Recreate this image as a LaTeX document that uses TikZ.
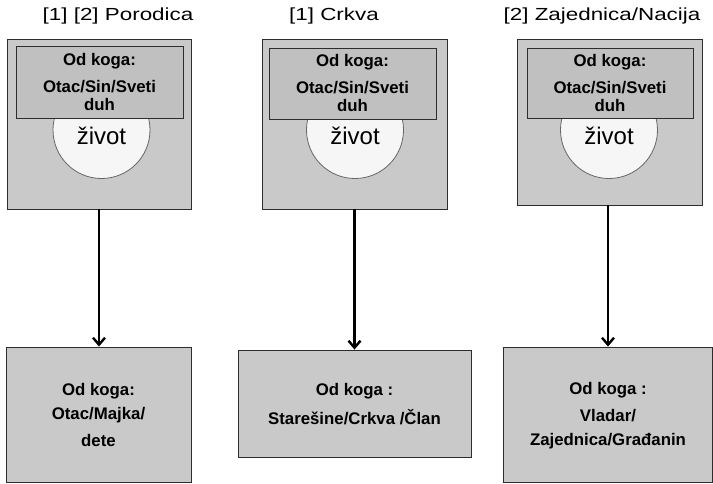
\documentclass[tikz,border=0pt]{standalone}
\usepackage{fontspec}
\setmainfont{Liberation Sans}
\usetikzlibrary{arrows.meta}
\definecolor{boxgray}{RGB}{201,201,201}
\definecolor{innergray}{RGB}{192,192,192}
\definecolor{circfill}{RGB}{246,246,246}
\definecolor{edge}{RGB}{45,45,45}
\newcommand{\wideTitle}[1]{\scalebox{1.28}[1]{#1}}
\begin{document}
\begin{tikzpicture}[x=1pt,y=-1pt,
  outerbox/.style={draw=edge,line width=0.9pt,fill=boxgray,rectangle,inner sep=0pt},
  innerbox/.style={draw=edge,line width=0.9pt,fill=innergray,rectangle,inner sep=0pt},
  lifecirc/.style={draw=black!60,line width=0.8pt,fill=circfill,circle,inner sep=0pt,minimum size=97pt},
  titletext/.style={font=\fontsize{17.5}{21}\selectfont,inner sep=0pt},
  lifetext/.style={font=\fontsize{24}{28}\selectfont,inner sep=0pt},
  boldtext/.style={font=\fontsize{16.8}{18}\selectfont\bfseries,inner sep=0pt,align=center},
  flow/.style={line width=2.4pt,-{Straight Barb[length=7pt,width=12pt,line width=2.4pt]}}
]
\useasboundingbox (0,0) rectangle (713,483);
\fill[white] (0,0) rectangle (713,483);

% titles
\node[titletext] (ti1) at (118,15.5) {\wideTitle{[1] [2] Porodica}};
\node[titletext] (ti2) at (334,15.5) {\wideTitle{[1] Crkva}};
\node[titletext] (ti3) at (602,15.5) {\wideTitle{[2] Zajednica/Nacija}};

% top boxes
\node[outerbox,minimum width=184pt,minimum height=170pt] (t1) at (99,124) {};
\node[outerbox,minimum width=185pt,minimum height=170pt] (t2) at (354.5,124) {};
\node[outerbox,minimum width=185pt,minimum height=166pt] (t3) at (609.5,122) {};

% circles
\node[lifecirc] (c1) at (101.5,130) {};
\node[lifecirc] (c2) at (355,130) {};
\node[lifecirc] (c3) at (609,130) {};

% inner boxes
\node[innerbox,minimum width=167pt,minimum height=72pt] (i1) at (99.5,82) {};
\node[innerbox,minimum width=167pt,minimum height=71pt] (i2) at (352.5,83.5) {};
\node[innerbox,minimum width=166pt,minimum height=70pt] (i3) at (610,83) {};

% inner texts
\node[boldtext] (h1) at (99.5,61) {Od koga:};
\node[boldtext] (s1) at (99.5,95) {Otac/Sin/Sveti\\duh};
\node[boldtext] (h2) at (352.5,62) {Od koga:};
\node[boldtext] (s2) at (352.5,96) {Otac/Sin/Sveti\\duh};
\node[boldtext] (h3) at (610,62) {Od koga:};
\node[boldtext] (s3) at (610,96) {Otac/Sin/Sveti\\duh};

% život
\node[lifetext] (l1) at (101.5,136) {život};
\node[lifetext] (l2) at (355,136) {život};
\node[lifetext] (l3) at (609,136) {život};

% bottom boxes
\node[outerbox,minimum width=185pt,minimum height=135pt] (b1) at (98.5,414.5) {};
\node[outerbox,minimum width=233pt,minimum height=107pt] (b2) at (354.5,403.5) {};
\node[outerbox,minimum width=209pt,minimum height=135pt] (b3) at (608,414.5) {};

% bottom texts
\node[boldtext] (bh1) at (98.5,391) {Od koga:};
\node[boldtext] (bs1) at (98.5,415.5) {Otac/Majka/};
\node[boldtext] (bd1) at (98.5,440) {dete};
\node[boldtext] (bh2) at (354.5,391) {Od koga :};
\node[boldtext] (bs2) at (354.5,417) {Starešine/Crkva /Član};
\node[boldtext] (bh3) at (608,390) {Od koga :};
\node[boldtext] (bs3) at (608,415.5) {Vladar/};
\node[boldtext] (bd3) at (608,441) {Zajednica/Građanin};

% arrows
\draw[flow] (t1.south) -- (t1.south |- b1.north);
\draw[flow] (t2.south) -- (t2.south |- b2.north);
\draw[flow] (b3.north |- t3.south) -- (b3.north);
\end{tikzpicture}
\end{document}
